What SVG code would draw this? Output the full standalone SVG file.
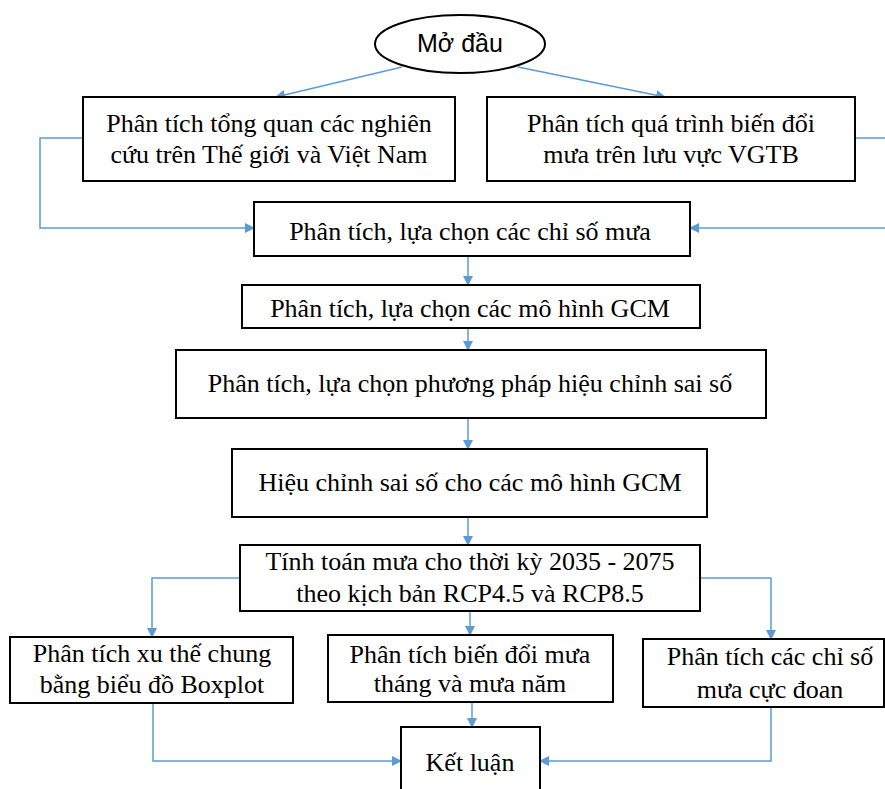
<svg xmlns="http://www.w3.org/2000/svg" width="885" height="789" viewBox="0 0 885 789">
<style>
.box{fill:#fff;stroke:#000;stroke-width:2}
.t{font-family:'Liberation Serif','Times New Roman',serif;font-size:26px;fill:#000;text-anchor:middle}
.s{font-family:'Liberation Sans',Arial,sans-serif;font-size:25px;fill:#000;text-anchor:middle}
.c{fill:none;stroke:#5B9BD5;stroke-width:1.5}
</style>
<defs>
<marker id="a" markerWidth="10" markerHeight="10" refX="9" refY="5" orient="auto" markerUnits="userSpaceOnUse">
<path d="M0,0 L10,5 L0,10 Z" fill="#5B9BD5"/>
</marker>
</defs>
<rect width="885" height="789" fill="#fff"/>
<g id="connectors">
<path class="c" d="M402,67 L276,97" marker-end="url(#a)"/>
<path class="c" d="M518,67 L665,97" marker-end="url(#a)"/>
<path class="c" d="M83,138 H40 V228 H254" marker-end="url(#a)"/>
<path class="c" d="M855,138 H885 M885,228 H690" marker-end="url(#a)"/>
<path class="c" d="M468,256 V285" marker-end="url(#a)"/>
<path class="c" d="M468,328 V350" marker-end="url(#a)"/>
<path class="c" d="M468,418 V449" marker-end="url(#a)"/>
<path class="c" d="M468,517 V545" marker-end="url(#a)"/>
<path class="c" d="M240,578 H152 V637" marker-end="url(#a)"/>
<path class="c" d="M700,578 H771 V639" marker-end="url(#a)"/>
<path class="c" d="M470,611 V635" marker-end="url(#a)"/>
<path class="c" d="M153,703 V761 H401" marker-end="url(#a)"/>
<path class="c" d="M472,702 V727" marker-end="url(#a)"/>
<path class="c" d="M771,707 V761 H540" marker-end="url(#a)"/>
</g>
<g id="n0"><ellipse class="box" cx="460" cy="44" rx="85" ry="29"/><text class="s" x="460" y="52">Mở đầu</text></g>
<g id="n1"><rect class="box" x="83" y="97" width="372" height="84"/><text class="t" x="269" y="132">Phân tích tổng quan các nghiên</text><text class="t" x="269" y="163">cứu trên Thế giới và Việt Nam</text></g>
<g id="n2"><rect class="box" x="487" y="97" width="368" height="84"/><text class="t" x="671" y="132">Phân tích quá trình biến đổi</text><text class="t" x="671" y="163">mưa trên lưu vực VGTB</text></g>
<g id="n3"><rect class="box" x="254" y="202" width="436" height="54"/><text class="t" x="470" y="240">Phân tích, lựa chọn các chỉ số mưa</text></g>
<g id="n4"><rect class="box" x="242" y="285" width="458" height="43"/><text class="t" x="470" y="317">Phân tích, lựa chọn các mô hình GCM</text></g>
<g id="n5"><rect class="box" x="176" y="350" width="590" height="68"/><text class="t" x="470" y="392">Phân tích, lựa chọn phương pháp hiệu chỉnh sai số</text></g>
<g id="n6"><rect class="box" x="232" y="449" width="475" height="68"/><text class="t" x="470" y="491">Hiệu chỉnh sai số cho các mô hình GCM</text></g>
<g id="n7"><rect class="box" x="240" y="545" width="460" height="66"/><text class="t" x="470" y="570">Tính toán mưa cho thời kỳ 2035  - 2075</text><text class="t" x="470" y="602">theo kịch  bản RCP4.5 và RCP8.5</text></g>
<g id="n8"><rect class="box" x="10" y="637" width="283" height="66"/><text class="t" x="152" y="662">Phân tích xu thế chung</text><text class="t" x="152" y="693">bằng biểu đồ Boxplot</text></g>
<g id="n9"><rect class="box" x="328" y="635" width="285" height="67"/><text class="t" x="470" y="663">Phân tích biến đổi mưa</text><text class="t" x="470" y="692">tháng và mưa năm</text></g>
<g id="n10"><rect class="box" x="643" y="639" width="241" height="68"/><text class="t" x="770" y="665">Phân tích các chỉ số</text><text class="t" x="770" y="698">mưa cực đoan</text></g>
<g id="n11"><rect class="box" x="401" y="727" width="139" height="70"/><text class="t" x="470" y="771">Kết luận</text></g>
</svg>
